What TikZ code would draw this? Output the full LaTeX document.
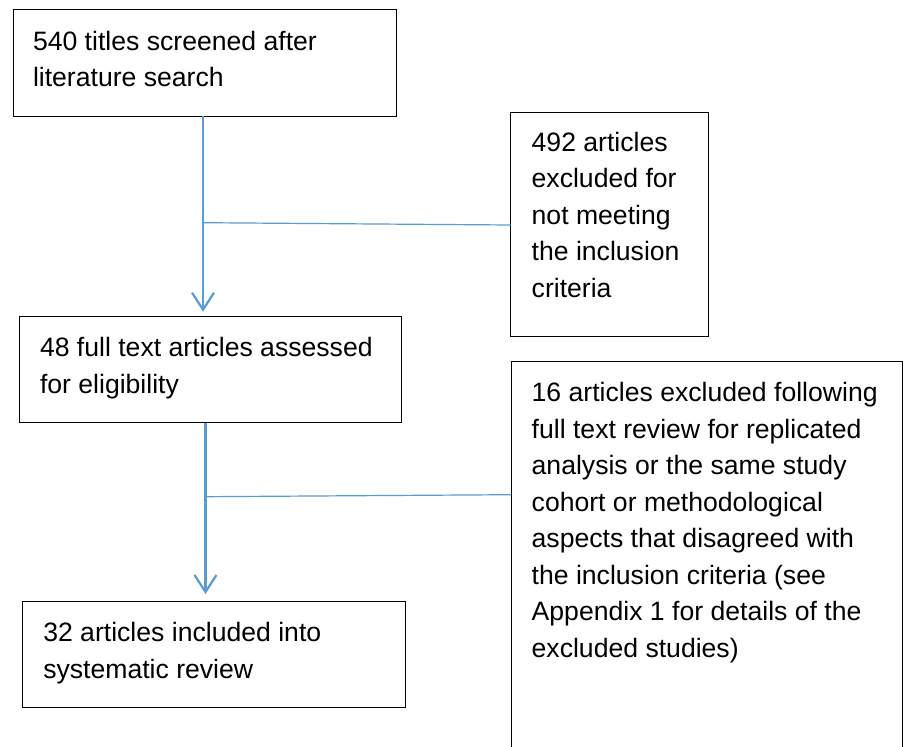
\documentclass[tikz,border=0pt]{standalone}
\usepackage{fontspec}
\setmainfont{Liberation Sans}
\usetikzlibrary{arrows.meta}
\definecolor{flowblue}{HTML}{5B9BD5}
\tikzset{
  box/.style={draw=black, line width=1pt, rectangle, inner sep=0pt, outer sep=0pt, anchor=north west},
  txt/.style={font=\fontsize{26.6}{36.5}\selectfont, align=left, anchor=north west, inner sep=0pt, outer sep=0pt},
  arr/.style={draw=flowblue, line width=2.2pt, -{Straight Barb[length=17pt,width=22pt,line width=2.2pt]}},
  branch/.style={draw=flowblue, line width=1.2pt}
}
\begin{document}
\begin{tikzpicture}[x=1pt,y=-1pt]
\useasboundingbox (0,0) rectangle (903,747);
\node[box, minimum width=383pt, minimum height=107pt] (b1) at (13,9) {};
\node[box, minimum width=197.3pt, minimum height=224pt] (b2) at (510.7,112.7) {};
\node[box, minimum width=382pt, minimum height=106pt] (b3) at (19,316.7) {};
\node[box, minimum width=391pt, minimum height=395pt] (b4) at (511,361) {};
\node[box, minimum width=383pt, minimum height=106.3pt] (b5) at (22.7,601) {};

\node[txt] (t1) at (33,31) {540 titles screened after\\literature search};
\node[txt] (t2) at (531.7,132) {492 articles\\excluded for\\not meeting\\the inclusion\\criteria};
\node[txt] (t3) at (40,337.7) {48 full text articles assessed\\for eligibility};
\node[txt] (t4) at (531.7,382.7) {16 articles excluded following\\full text review for replicated\\analysis or the same study\\cohort or methodological\\aspects that disagreed with\\the inclusion criteria (see\\Appendix 1 for details of the\\excluded studies)};
\node[txt] (t5) at (43.3,622.7) {32 articles included into\\systematic review};

\coordinate (j1) at (203,222.7);
\coordinate (e1) at (b2.west |- 0,225);
\coordinate (j2) at (205.5,496.7);
\coordinate (e2) at (b4.west |- 0,494.7);

\draw[arr] (b1.south -| j1) -- ([yshift=5pt]b3.north -| j1);
\draw[branch] (j1) -- (e1);
\draw[arr] (b3.south -| j2) -- ([yshift=7pt]b5.north -| j2);
\draw[branch] (j2) -- (e2);
\end{tikzpicture}
\end{document}
